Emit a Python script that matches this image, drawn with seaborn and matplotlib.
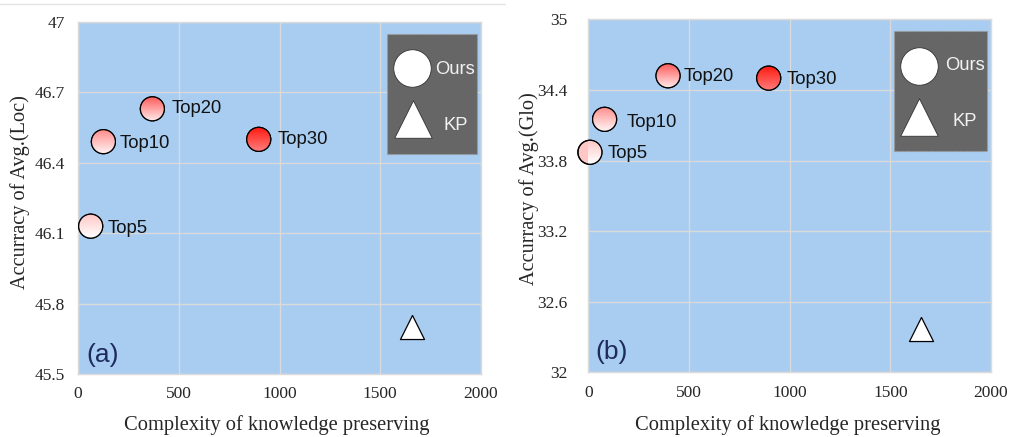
import numpy as np
import pandas as pd
import matplotlib
matplotlib.use("Agg")
import matplotlib.pyplot as plt
import seaborn as sns
from matplotlib.lines import Line2D
from matplotlib.patches import Circle, Rectangle
from matplotlib.transforms import Affine2D, ScaledTranslation
from matplotlib.colors import to_rgb

# ---------------- data ----------------
methods = ["Top5", "Top10", "Top20", "Top30"]
loc_complexity = [63, 126, 369, 897]
loc_acc = [46.13, 46.49, 46.63, 46.50]
kp_loc_complexity = [1656]
kp_loc_acc = [45.70]

glo_complexity = [8, 81, 396, 896]
glo_acc = [33.87, 34.15, 34.52, 34.50]
kp_glo_complexity = [1652]
kp_glo_acc = [32.37]

x_ticks = [0, 500, 1000, 1500, 2000]
x_ticklabels = ["0", "500", "1000", "1500", "2000"]
loc_yticks = [45.5, 45.8, 46.1, 46.4, 46.7, 47.0]
loc_yticklabels = ["45.5", "45.8", "46.1", "46.4", "46.7", "47"]
glo_yticks = [32.0, 32.6, 33.2, 33.8, 34.4, 35.0]
glo_yticklabels = ["32", "32.6", "33.2", "33.8", "34.4", "35"]

x_label = "Complexity of knowledge preserving"
loc_ylabel = "Accurracy of Avg.(Loc)"
glo_ylabel = "Accurracy of Avg.(Glo)"
panel_tags = ["(a)", "(b)"]
legend_labels = ["Ours", "KP"]

# ---------------- style ----------------
BG = "#A8CDF1"
GRID = "#DADADA"
grad_top = ["#FFC6C6", "#FF8E8E", "#FF5C5C", "#FF1A10"]
grad_bottom = ["#FFFFFF", "#FFF4F4", "#FFECEC", "#FF7C7C"]
R_IN = 0.12  # marker radius in inches
CIRCLE_S = (2 * R_IN * 72) ** 2
TRI_S = 300
LEG_S = 27 ** 2
SERIF = "Liberation Serif"
SANS = "Liberation Sans"

sns.set_style("white")
plt.rcParams["font.family"] = [SANS, "DejaVu Sans"]

fig = plt.figure(figsize=(10.09, 4.37), dpi=100)
ax_a = fig.add_axes([78 / 1009, 63 / 437, 403 / 1009, 352 / 437])
ax_b = fig.add_axes([588.3 / 1009, 64.7 / 437, 402.7 / 1009, 353 / 437])

fig.add_artist(Line2D([0, 505 / 1009], [1 - 4 / 437, 1 - 4 / 437],
                      transform=fig.transFigure, color="#E4E4E4", lw=1))

offsets_a = [(12.2, -1.5), (11.5, -1.5), (13.7, 0), (13.7, 0)]
offsets_b = [(13, -1), (16, -2.4), (11.5, -0.5), (13, -1)]

# legend layout (axes fractions): box, circle, triangle, "Ours", "KP"
legend_a = dict(box=(0.767, 0.625, 0.990, 0.966), circ=(0.829, 0.869),
                tri=(0.831, 0.724), ours=(0.886, 0.864), kp=(0.906, 0.705))
legend_b = dict(box=(0.758, 0.628, 0.989, 0.967), circ=(0.822, 0.869),
                tri=(0.821, 0.724), ours=(0.886, 0.869), kp=(0.904, 0.710))


def panel(ax, xs, ys, kx, ky, yticks, yticklabels, ylabel, tag, offsets,
          ypad, ylabel_xy, xlabel_xy, tag_pos, lg):
    ax.set_facecolor(BG)
    df = pd.DataFrame({"x": xs, "y": ys, "method": methods})
    sns.scatterplot(data=df, x="x", y="y", hue="method",
                    palette=dict(zip(methods, grad_top)), s=CIRCLE_S,
                    edgecolor="black", linewidth=0.9, legend=False,
                    zorder=3, clip_on=False, ax=ax)
    kdf = pd.DataFrame({"x": kx, "y": ky})
    sns.scatterplot(data=kdf, x="x", y="y", marker="^", color="white",
                    edgecolor="black", linewidth=0.9, s=TRI_S, legend=False,
                    zorder=3, ax=ax)
    # vertical gradient fill for each circle
    g = np.linspace(0, 1, 64)[:, None, None]
    for x, y, t, b in zip(xs, ys, grad_top, grad_bottom):
        T = (Affine2D().scale(R_IN) + fig.dpi_scale_trans
             + ScaledTranslation(x, y, ax.transData))
        img = (1 - g) * np.array(to_rgb(t)) + g * np.array(to_rgb(b))
        im = ax.imshow(img, extent=[-1, 1, -1, 1], transform=T,
                       interpolation="bilinear", aspect="auto", zorder=4)
        im.set_clip_path(Circle((0, 0), 1, transform=T))
        ring = Circle((0, 0), 1, transform=T, fill=False, edgecolor="black",
                      lw=0.9, zorder=5, clip_on=False)
        ax.add_patch(ring)
    for m, x, y, off in zip(methods, xs, ys, offsets):
        ax.annotate(m, (x, y), xytext=off, textcoords="offset points",
                    ha="left", va="center", fontsize=13.3, family=SANS,
                    color="#111111", zorder=6)

    ax.set_xlim(0, 2000)
    ax.set_ylim(yticks[0], yticks[-1])
    ax.set_xticks(x_ticks)
    ax.set_xticklabels(x_ticklabels, family=SERIF, fontsize=12.5)
    ax.set_yticks(yticks)
    ax.set_yticklabels(yticklabels, family=SERIF, fontsize=12.5)
    ax.tick_params(axis="x", length=0, pad=9)
    ax.tick_params(axis="y", length=0, pad=ypad)
    ax.grid(True, color=GRID, lw=1)
    ax.set_axisbelow(True)
    for sp in ax.spines.values():
        sp.set_color(GRID)
        sp.set_linewidth(1)
    ax.set_xlabel(x_label, family=SERIF, fontsize=14.8)
    ax.xaxis.set_label_coords(*xlabel_xy)
    ax.set_ylabel(ylabel, family=SERIF, fontsize=14.6)
    ax.yaxis.set_label_coords(*ylabel_xy)

    ax.text(tag_pos[0], tag_pos[1], tag, transform=ax.transAxes,
            fontsize=19, family=SANS, color="#1F2B5E", ha="left", va="center")

    # legend box drawn manually to match the layout
    x0, y0, x1, y1 = lg["box"]
    ax.add_patch(Rectangle((x0, y0), x1 - x0, y1 - y0, transform=ax.transAxes,
                           facecolor="#666666", edgecolor="#9A9A9A",
                           linestyle="--", lw=0.8, zorder=6, clip_on=False))
    ax.scatter([lg["circ"][0]], [lg["circ"][1]], s=LEG_S, marker="o",
               facecolor="white", edgecolor="#333333", linewidth=0.6,
               transform=ax.transAxes, zorder=7, clip_on=False)
    ax.scatter([lg["tri"][0]], [lg["tri"][1]], s=LEG_S, marker="^",
               facecolor="white", edgecolor="#333333", linewidth=0.6,
               transform=ax.transAxes, zorder=7, clip_on=False)
    ax.text(*lg["ours"], legend_labels[0], transform=ax.transAxes,
            ha="left", va="center", fontsize=13.2, family=SANS,
            color="#F2F2F2", zorder=8)
    ax.text(*lg["kp"], legend_labels[1], transform=ax.transAxes,
            ha="left", va="center", fontsize=13.2, family=SANS,
            color="#F2F2F2", zorder=8)


panel(ax_a, loc_complexity, loc_acc, kp_loc_complexity, kp_loc_acc,
      loc_yticks, loc_yticklabels, loc_ylabel, panel_tags[0], offsets_a,
      9.5, (-0.119, 0.518), (0.494, -0.117), (0.022, 0.054), legend_a)
panel(ax_b, glo_complexity, glo_acc, kp_glo_complexity, kp_glo_acc,
      glo_yticks, glo_yticklabels, glo_ylabel, panel_tags[1], offsets_b,
      15, (-0.122, 0.52), (0.495, -0.122), (0.017, 0.058), legend_b)

fig.savefig("out.png", dpi=100)
